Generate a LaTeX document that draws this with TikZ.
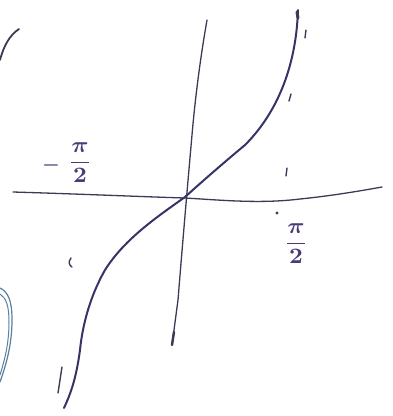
\documentclass[tikz,border=0pt]{standalone}
\usepackage{amsmath}
\usepackage{bm}
\usepackage{graphicx}
\definecolor{ink}{HTML}{3C3A55}
\definecolor{pinkink}{HTML}{4A3A78}
\definecolor{blueink}{HTML}{5A80A0}
\tikzset{
  axisline/.style={draw=ink, line width=1.3pt, line cap=round},
  curveline/.style={draw=ink!90!blue, line width=2pt, line cap=round},
  strokemark/.style={draw=ink, line width=1.4pt, line cap=round},
  lbl/.style={text=pinkink, inner sep=0pt},
}
\begin{document}
\begin{tikzpicture}[x=1pt,y=-1pt]
\useasboundingbox (0,0) rectangle (393,416);
% horizontal axis
\draw[axisline] (13,192) .. controls (80,194) and (150,197) .. (185,198)
   .. controls (220,200) and (260,204) .. (300,199) .. controls (330,196) and (360,191) .. (382,187);
% vertical axis
\draw[axisline] (207,20) .. controls (200,60) and (195,100) .. (192,135)
   .. controls (188,180) and (182,250) .. (178,300) -- (172,345);
\draw[ink, line width=2.4pt, line cap=round] (174,332) -- (172,345);
% curve
\draw[curveline] (298,10) .. controls (296,70) and (275,115) .. (245,145)
   .. controls (215,170) and (195,188) .. (185,197)
   .. controls (160,215) and (125,238) .. (105,270)
   .. controls (88,300) and (82,330) .. (80,350)
   .. controls (76,380) and (70,395) .. (64,408);
\draw[ink, line width=3pt, line cap=round] (297,12) -- (298,18);
% labels
\node[lbl] (mlab) at (80,163) {\scalebox{2.4}[2.2]{$\dfrac{\bm{\pi}}{\bm{2}}$}};
\node[lbl] (mminus) at (51,165) {\scalebox{2}{$\bm{-}$}};
\node[lbl] (plab) at (296,244) {\scalebox{2.4}[2.2]{$\dfrac{\bm{\pi}}{\bm{2}}$}};
\fill[ink] (277,213) circle (1.6pt);
% stray marks
\draw[strokemark] (306,30) -- (305,38);
\draw[strokemark] (291,94) -- (289,101);
\draw[strokemark] (287,168) -- (286,176);
\draw[strokemark] (71,258) .. controls (68,262) and (69,265) .. (72,267);
\draw[strokemark] (62,367) -- (58,393);
% top-left arc
\draw[draw=ink, line width=1.8pt, line cap=round] (0,60) .. controls (4,45) and (10,35) .. (19,29);
% blue loop
\draw[draw=blueink, line width=1.2pt] (0,288) .. controls (8,292) and (12,300) .. (12,320)
   .. controls (12,345) and (6,365) .. (0,382);
\draw[draw=blueink, line width=1pt] (0,294) .. controls (6,298) and (9,305) .. (9,322)
   .. controls (9,345) and (4,362) .. (0,375);
\end{tikzpicture}
\end{document}
